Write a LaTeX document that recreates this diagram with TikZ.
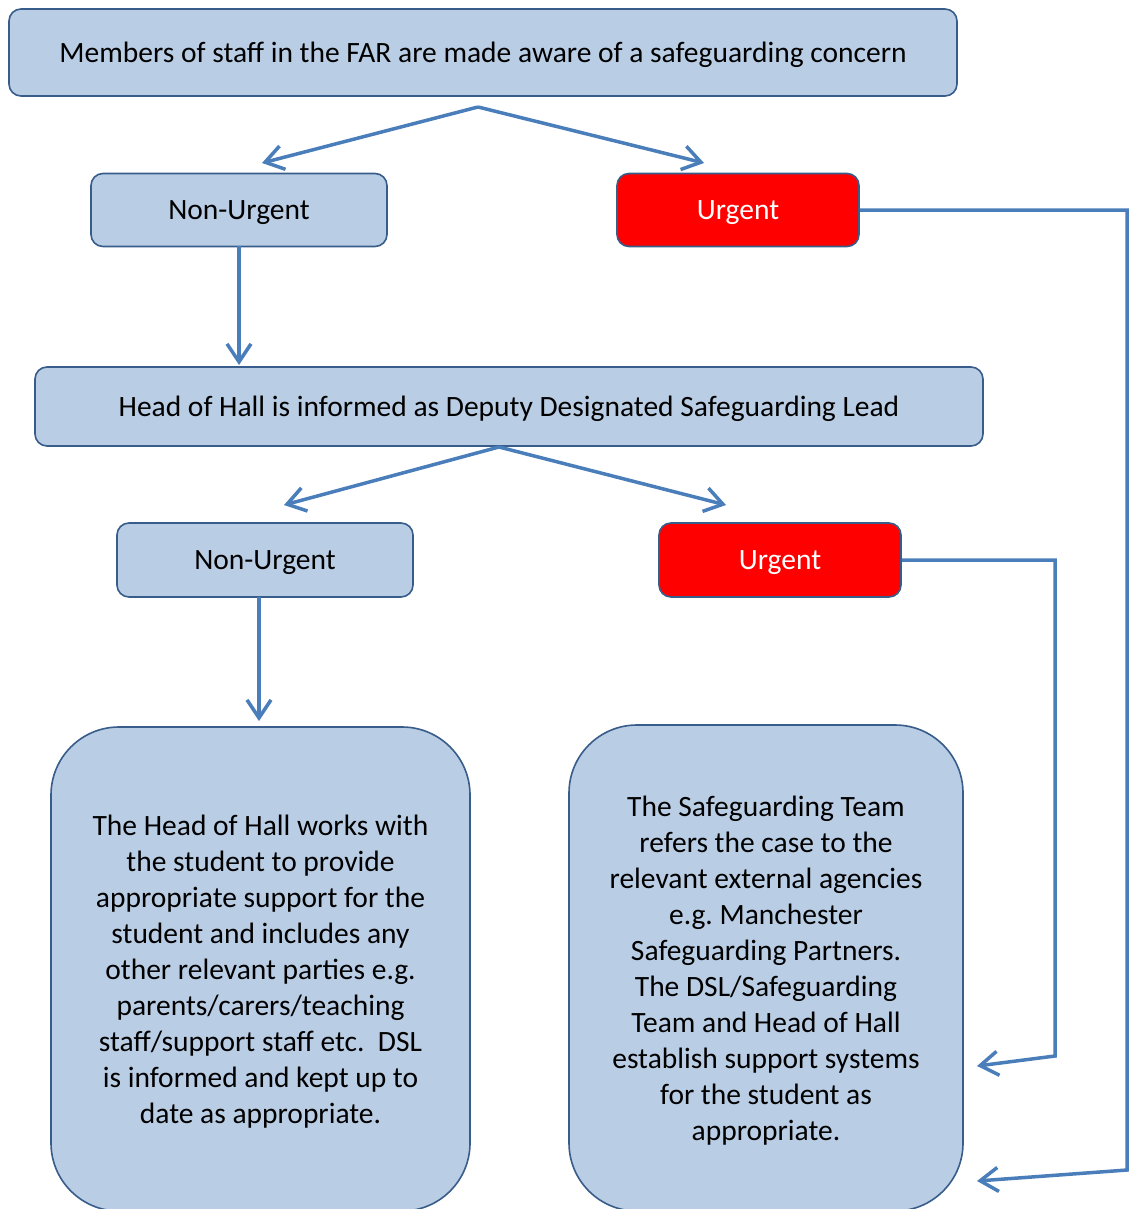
\documentclass[tikz,border=0pt]{standalone}
\usepackage{fontspec}
\setmainfont{Carlito}
\usetikzlibrary{arrows.meta}
\definecolor{boxfill}{HTML}{B9CDE5}
\definecolor{boxline}{HTML}{385D8A}
\definecolor{arrowc}{HTML}{4A7EBB}
\definecolor{urgred}{HTML}{FF0000}
\tikzset{
  box/.style={draw=boxline, line width=1.6pt, fill=boxfill, rounded corners=12pt, inner sep=0pt, text depth=0pt, align=center, font=\fontsize{29.5}{36}\selectfont},
  urgbox/.style={box, fill=urgred, text=white},
  bigbox/.style={box, rounded corners=68pt},
  conn/.style={draw=arrowc, line width=3.5pt, -{Straight Barb[length=18pt,width=24pt,line width=3.5pt]}},
}
\begin{document}
\begin{tikzpicture}[x=1pt,y=-1pt]
\clip (0,0) rectangle (1129,1209);
\fill[white] (0,0) rectangle (1129,1209);
\node[box, minimum width=948pt, minimum height=87pt] (top) at (483,52.5) {Members of staff in the FAR are made aware of a safeguarding concern};
\node[box, minimum width=296pt, minimum height=73pt] (nu1) at (239,210) {Non-Urgent};
\node[urgbox, minimum width=242pt, minimum height=73pt] (u1) at (738,210) {Urgent};
\node[box, minimum width=948pt, minimum height=79pt] (hoh) at (509,406.5) {Head of Hall is informed as Deputy Designated Safeguarding Lead};
\node[box, minimum width=296pt, minimum height=74pt] (nu2) at (265,560) {Non-Urgent};
\node[urgbox, minimum width=242pt, minimum height=74pt] (u2) at (780,560) {Urgent};
\node[bigbox, minimum width=419pt, minimum height=484pt] (lbox) at (260.5,969) {The Head of Hall works with\\the student to provide\\appropriate support for the\\student and includes any\\other relevant parties e.g.\\parents/carers/teaching\\staff/support staff etc.\ \ DSL\\is informed and kept up to\\date as appropriate.};
\node[bigbox, minimum width=394pt, minimum height=486pt] (rbox) at (766,968) {The Safeguarding Team\\refers the case to the\\relevant external agencies\\e.g.\ Manchester\\Safeguarding Partners.\\The DSL/Safeguarding\\Team and Head of Hall\\establish support systems\\for the student as\\appropriate.};
% fork points and arrow ends
\coordinate (f1) at (478,107);
\coordinate (a1) at (262,163);
\coordinate (a2) at (704,163);
\coordinate (f2) at (499,447);
\coordinate (a3) at (284,505);
\coordinate (a4) at (726,505);
\coordinate (nu1s) at (239,246);
\coordinate (a5) at (239,365);
\coordinate (nu2s) at (259,597);
\coordinate (a6) at (259,721);
\coordinate (r2) at (1127,1170);
\coordinate (a7) at (977,1181);
\coordinate (s2) at (1055,1056);
\coordinate (a8) at (977,1066);
\draw[conn] (f1) -- (a1);
\draw[conn] (f1) -- (a2);
\draw[conn] (nu1s) -- (a5);
\draw[conn] (f2) -- (a3);
\draw[conn] (f2) -- (a4);
\draw[conn] (nu2s) -- (a6);
\draw[conn] (u1.east) -| (r2) -- (a7);
\draw[conn] (u2.east) -| (s2) -- (a8);
\end{tikzpicture}
\end{document}
